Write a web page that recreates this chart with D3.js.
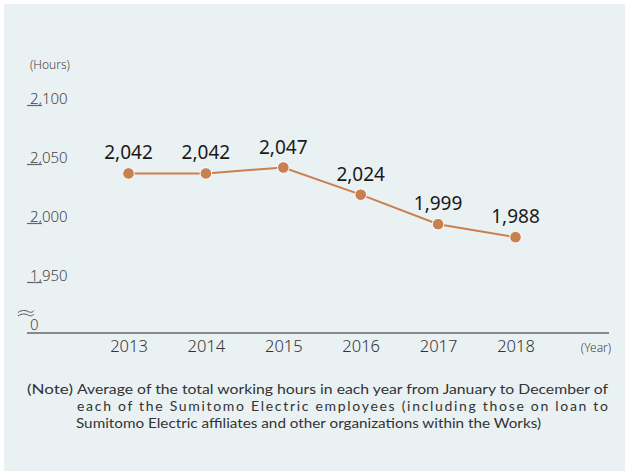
<!DOCTYPE html>
<html>
<head>
<meta charset="utf-8">
<script src="https://cdn.jsdelivr.net/npm/d3@7"></script>
<style>
  html, body { margin: 0; padding: 0; background: #ffffff; }
  svg { display: block; }
  text { font-family: "Noto Sans", "Open Sans", sans-serif; }
  text.note { font-family: Lato, "Noto Sans", sans-serif; }
</style>
</head>
<body>
<svg id="chart" width="625" height="471"></svg>
<script>
// Average annual working hours per employee
const years = ["2013", "2014", "2015", "2016", "2017", "2018"];
const hours = [2042, 2042, 2047, 2024, 1999, 1988];
const yTicks = [1950, 2000, 2050, 2100];
const yUnit = "(Hours)";
const xUnit = "(Year)";
const noteLead = "(Note)";
const noteLines = [
  "Average of the total working hours in each year from January to December of",
  "each of the Sumitomo Electric employees (including those on loan to",
  "Sumitomo Electric affiliates and other organizations within the Works)"
];

const svg = d3.select("#chart");
const accent = "#c98050";

// panel background
svg.append("rect")
  .attr("x", 4).attr("y", 4)
  .attr("width", 621).attr("height", 467)
  .attr("fill", "#eaf1f3");

const x = d3.scalePoint().domain(years).range([128.5, 515.5]);
const y = d3.scaleLinear().domain([1950, 2100]).range([282, 105]);
const baseY = 333;

// y-axis unit
svg.append("text")
  .attr("x", 30).attr("y", 69)
  .attr("font-size", 12).attr("font-weight", 300).attr("fill", "#444")
  .text(yUnit);

// y ticks: short underline with value sitting on top of it
const yAxis = d3.axisLeft(y).tickValues(yTicks).tickSize(0).tickFormat(d3.format(","));
const yg = svg.append("g").call(yAxis);
yg.select(".domain").remove();
yg.selectAll(".tick text")
  .attr("x", 30).attr("dy", null).attr("y", -2)
  .attr("text-anchor", "start")
  .attr("font-weight", 300)
  .attr("font-size", 15).attr("fill", "#444");
yg.selectAll(".tick").append("line")
  .attr("x1", 27).attr("x2", 42)
  .attr("stroke", "#666").attr("stroke-width", 1.2);

// zero label and axis break mark
svg.append("text")
  .attr("x", 30).attr("y", baseY - 3)
  .attr("font-size", 15).attr("font-weight", 300).attr("fill", "#444")
  .text("0");
const brk = svg.append("g").attr("fill", "none").attr("stroke", "#555").attr("stroke-width", 1);
[311.5, 315].forEach(yy => {
  brk.append("path")
    .attr("d", `M18,${yy + 1} C22,${yy - 2} 26,${yy - 1} 28,${yy} S32,${yy + 1.5} 34,${yy - 1}`);
});

// x axis
svg.append("line")
  .attr("x1", 27).attr("x2", 609)
  .attr("y1", baseY).attr("y2", baseY)
  .attr("stroke", "#666").attr("stroke-width", 1.5);

const xAxis = d3.axisBottom(x).tickSize(0);
const xg = svg.append("g").attr("transform", `translate(0,${baseY})`).call(xAxis);
xg.select(".domain").remove();
xg.selectAll(".tick text")
  .attr("dy", null).attr("y", 19)
  .attr("font-weight", 300)
  .attr("font-size", 16.5).attr("fill", "#333");

svg.append("text")
  .attr("x", 596).attr("y", 352)
  .attr("text-anchor", "middle")
  .attr("font-size", 12).attr("font-weight", 300).attr("fill", "#444")
  .text(xUnit);

// series
const data = years.map((yr, i) => ({ year: yr, value: hours[i] }));
const line = d3.line().x(d => x(d.year)).y(d => y(d.value));

svg.append("path")
  .datum(data)
  .attr("d", line)
  .attr("fill", "none")
  .attr("stroke", accent)
  .attr("stroke-width", 2);

svg.selectAll("circle.pt")
  .data(data).join("circle")
  .attr("class", "pt")
  .attr("cx", d => x(d.year)).attr("cy", d => y(d.value))
  .attr("r", 5.8)
  .attr("fill", accent)
  .attr("stroke", "#ffffff").attr("stroke-width", 1);

svg.selectAll("text.val")
  .data(data).join("text")
  .attr("class", "val")
  .attr("x", d => x(d.year)).attr("y", d => y(d.value) - 14)
  .attr("text-anchor", "middle")
  .attr("font-size", 19).attr("fill", "#1a1a1a")
  .text(d => d3.format(",")(d.value));

// note, set in a compact-metric face so the 17px line pitch stays clear
svg.append("text")
  .attr("class", "note")
  .attr("x", 27).attr("y", 394)
  .attr("font-size", 14).attr("fill", "#333")
  .attr("textLength", 46).attr("lengthAdjust", "spacingAndGlyphs")
  .text(noteLead);
const noteSpans = [
  { x: 77, y: 394, len: 531, adj: "spacingAndGlyphs" },
  { x: 77, y: 411, len: 531, adj: "spacing" },
  { x: 76, y: 428, len: 465, adj: "spacingAndGlyphs" }
];
noteLines.forEach((t, i) => {
  svg.append("text")
    .attr("class", "note")
    .attr("x", noteSpans[i].x).attr("y", noteSpans[i].y)
    .attr("font-size", 14).attr("fill", "#333")
    .attr("textLength", noteSpans[i].len)
    .attr("lengthAdjust", noteSpans[i].adj)
    .text(t);
});
</script>
</body>
</html>
